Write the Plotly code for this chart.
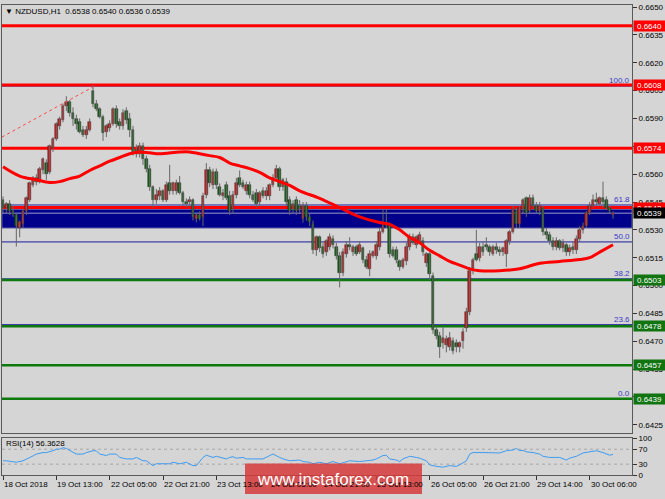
import plotly.graph_objects as go

# NZDUSD H1, bar 0 = 18 Oct 2018
opens = [0.6546, 0.6542, 0.6544, 0.6540, 0.6538, 0.6531, 0.6533, 0.6540, 0.6546, 0.6554,
         0.6558, 0.6556, 0.6562, 0.6566, 0.6561, 0.6574, 0.6579, 0.6586, 0.6589, 0.6597,
         0.6599, 0.6593, 0.6590, 0.6588, 0.6584, 0.6581, 0.6584, 0.6605, 0.6598, 0.6595,
         0.6591, 0.6583, 0.6585, 0.6587, 0.6595, 0.6588, 0.6586, 0.6594, 0.6590, 0.6584,
         0.6573, 0.6571, 0.6575, 0.6568, 0.6563, 0.6553, 0.6546, 0.6548, 0.6551, 0.6546,
         0.6555, 0.6551, 0.6551, 0.6555, 0.6550, 0.6545, 0.6545, 0.6546, 0.6536, 0.6538,
         0.6537, 0.6549, 0.6562, 0.6554, 0.6561, 0.6553, 0.6548, 0.6554, 0.6548, 0.6541,
         0.6549, 0.6558, 0.6555, 0.6551, 0.6554, 0.6549, 0.6550, 0.6545, 0.6551, 0.6548,
         0.6548, 0.6554, 0.6558, 0.6563, 0.6553, 0.6556, 0.6546, 0.6541, 0.6546, 0.6543,
         0.6536, 0.6543, 0.6537, 0.6533, 0.6519, 0.6526, 0.6521, 0.6518, 0.6521, 0.6525,
         0.6521, 0.6516, 0.6507, 0.6517, 0.6522, 0.6518, 0.6521, 0.6518, 0.6520, 0.6514,
         0.6509, 0.6516, 0.6516, 0.6521, 0.6529, 0.6533, 0.6532, 0.6519, 0.6519, 0.6513,
         0.6510, 0.6513, 0.6521, 0.6526, 0.6522, 0.6524, 0.6524, 0.6512, 0.6517, 0.6505,
         0.6476, 0.6473, 0.6469, 0.6468, 0.6467, 0.6470, 0.6469, 0.6467, 0.6470, 0.6477,
         0.6486, 0.6508, 0.6517, 0.6515, 0.6521, 0.6522, 0.6521, 0.6517, 0.6521, 0.6519,
         0.6518, 0.6517, 0.6524, 0.6529, 0.6540, 0.6533, 0.6541, 0.6547, 0.6540, 0.6547,
         0.6543, 0.6540, 0.6542, 0.6529, 0.6527, 0.6524, 0.6521, 0.6524, 0.6520, 0.6522,
         0.6518, 0.6521, 0.6519, 0.6525, 0.6530, 0.6532, 0.6539, 0.6543, 0.6546, 0.6544,
         0.6547, 0.6546, 0.6542, 0.6538]
highs = [0.6548, 0.6545, 0.6546, 0.6543, 0.6539, 0.6535, 0.6541, 0.6548, 0.6556, 0.6559,
         0.6560, 0.6564, 0.6569, 0.6568, 0.6576, 0.6580, 0.6588, 0.6591, 0.6598, 0.6602,
         0.6600, 0.6596, 0.6592, 0.6590, 0.6586, 0.6586, 0.6590, 0.6608, 0.6600, 0.6596,
         0.6592, 0.6587, 0.6589, 0.6596, 0.6597, 0.6590, 0.6595, 0.6596, 0.6593, 0.6586,
         0.6576, 0.6577, 0.6577, 0.6570, 0.6565, 0.6554, 0.6552, 0.6553, 0.6552, 0.6556,
         0.6565, 0.6556, 0.6557, 0.6559, 0.6551, 0.6547, 0.6548, 0.6547, 0.6539, 0.6540,
         0.6550, 0.6566, 0.6564, 0.6563, 0.6563, 0.6555, 0.6552, 0.6556, 0.6551, 0.6551,
         0.6558, 0.6562, 0.6557, 0.6556, 0.6556, 0.6551, 0.6552, 0.6551, 0.6553, 0.6553,
         0.6555, 0.6560, 0.6565, 0.6564, 0.6558, 0.6558, 0.6548, 0.6546, 0.6548, 0.6546,
         0.6545, 0.6545, 0.6539, 0.6535, 0.6527, 0.6527, 0.6523, 0.6525, 0.6528, 0.6527,
         0.6523, 0.6518, 0.6520, 0.6524, 0.6526, 0.6522, 0.6522, 0.6524, 0.6521, 0.6516,
         0.6519, 0.6519, 0.6524, 0.6531, 0.6541, 0.6541, 0.6534, 0.6521, 0.6521, 0.6514,
         0.6515, 0.6523, 0.6528, 0.6528, 0.6527, 0.6529, 0.6526, 0.6518, 0.6518, 0.6507,
         0.6478, 0.6475, 0.6478, 0.6473, 0.6475, 0.6472, 0.6471, 0.6470, 0.6477, 0.6488,
         0.6510, 0.6515, 0.6530, 0.6523, 0.6524, 0.6526, 0.6522, 0.6522, 0.6523, 0.6521,
         0.6521, 0.6525, 0.6530, 0.6543, 0.6542, 0.6543, 0.6547, 0.6548, 0.6549, 0.6549,
         0.6545, 0.6545, 0.6543, 0.6531, 0.6529, 0.6526, 0.6526, 0.6525, 0.6525, 0.6523,
         0.6522, 0.6524, 0.6527, 0.6532, 0.6534, 0.6540, 0.6545, 0.6549, 0.6550, 0.6548,
         0.6556, 0.6548, 0.6543, 0.6540]
lows = [0.6539, 0.6539, 0.6538, 0.6537, 0.6521, 0.6526, 0.6531, 0.6538, 0.6545, 0.6553,
        0.6554, 0.6555, 0.6560, 0.6557, 0.6560, 0.6572, 0.6578, 0.6584, 0.6588, 0.6594,
        0.6591, 0.6586, 0.6584, 0.6582, 0.6580, 0.6579, 0.6583, 0.6596, 0.6594, 0.6590,
        0.6578, 0.6580, 0.6583, 0.6586, 0.6585, 0.6584, 0.6584, 0.6587, 0.6580, 0.6570,
        0.6569, 0.6569, 0.6565, 0.6561, 0.6551, 0.6542, 0.6544, 0.6546, 0.6545, 0.6545,
        0.6549, 0.6549, 0.6549, 0.6549, 0.6543, 0.6542, 0.6543, 0.6535, 0.6534, 0.6535,
        0.6532, 0.6547, 0.6553, 0.6552, 0.6552, 0.6548, 0.6546, 0.6546, 0.6538, 0.6539,
        0.6547, 0.6553, 0.6552, 0.6549, 0.6547, 0.6545, 0.6542, 0.6543, 0.6547, 0.6546,
        0.6546, 0.6553, 0.6556, 0.6551, 0.6551, 0.6543, 0.6538, 0.6539, 0.6538, 0.6539,
        0.6534, 0.6535, 0.6532, 0.6517, 0.6516, 0.6518, 0.6515, 0.6516, 0.6519, 0.6520,
        0.6514, 0.6499, 0.6505, 0.6515, 0.6519, 0.6516, 0.6516, 0.6517, 0.6512, 0.6509,
        0.6505, 0.6515, 0.6514, 0.6519, 0.6528, 0.6531, 0.6515, 0.6515, 0.6512, 0.6508,
        0.6509, 0.6511, 0.6519, 0.6522, 0.6520, 0.6523, 0.6516, 0.6510, 0.6503, 0.6474,
        0.6471, 0.6461, 0.6466, 0.6464, 0.6465, 0.6463, 0.6464, 0.6464, 0.6466, 0.6475,
        0.6484, 0.6506, 0.6513, 0.6513, 0.6516, 0.6519, 0.6516, 0.6516, 0.6517, 0.6516,
        0.6516, 0.6510, 0.6522, 0.6528, 0.6531, 0.6531, 0.6539, 0.6537, 0.6539, 0.6542,
        0.6539, 0.6538, 0.6527, 0.6525, 0.6522, 0.6519, 0.6519, 0.6519, 0.6518, 0.6516,
        0.6516, 0.6517, 0.6517, 0.6524, 0.6528, 0.6531, 0.6538, 0.6542, 0.6543, 0.6543,
        0.6542, 0.6541, 0.6539, 0.6536]
closes = [0.6542, 0.6544, 0.6540, 0.6538, 0.6532, 0.6534, 0.6540, 0.6547, 0.6555, 0.6558,
          0.6556, 0.6563, 0.6568, 0.6560, 0.6575, 0.6579, 0.6587, 0.6590, 0.6597, 0.6599,
          0.6593, 0.6590, 0.6587, 0.6583, 0.6581, 0.6584, 0.6588, 0.6598, 0.6595, 0.6591,
          0.6582, 0.6586, 0.6587, 0.6595, 0.6587, 0.6586, 0.6593, 0.6589, 0.6584, 0.6572,
          0.6571, 0.6575, 0.6568, 0.6563, 0.6553, 0.6546, 0.6549, 0.6551, 0.6546, 0.6554,
          0.6551, 0.6555, 0.6555, 0.6550, 0.6545, 0.6544, 0.6546, 0.6537, 0.6538, 0.6536,
          0.6548, 0.6562, 0.6555, 0.6561, 0.6554, 0.6549, 0.6550, 0.6547, 0.6540, 0.6549,
          0.6555, 0.6554, 0.6553, 0.6554, 0.6549, 0.6546, 0.6544, 0.6550, 0.6548, 0.6551,
          0.6554, 0.6558, 0.6563, 0.6553, 0.6557, 0.6545, 0.6540, 0.6544, 0.6540, 0.6541,
          0.6543, 0.6537, 0.6534, 0.6519, 0.6526, 0.6520, 0.6517, 0.6524, 0.6526, 0.6522,
          0.6516, 0.6507, 0.6518, 0.6522, 0.6521, 0.6521, 0.6517, 0.6522, 0.6514, 0.6510,
          0.6517, 0.6518, 0.6522, 0.6529, 0.6532, 0.6532, 0.6517, 0.6516, 0.6514, 0.6510,
          0.6514, 0.6521, 0.6526, 0.6523, 0.6526, 0.6527, 0.6518, 0.6517, 0.6506, 0.6476,
          0.6473, 0.6467, 0.6472, 0.6471, 0.6472, 0.6465, 0.6467, 0.6469, 0.6475, 0.6486,
          0.6508, 0.6514, 0.6514, 0.6521, 0.6518, 0.6521, 0.6518, 0.6521, 0.6519, 0.6518,
          0.6520, 0.6524, 0.6529, 0.6541, 0.6533, 0.6542, 0.6546, 0.6539, 0.6547, 0.6543,
          0.6540, 0.6543, 0.6529, 0.6527, 0.6524, 0.6521, 0.6524, 0.6520, 0.6523, 0.6518,
          0.6520, 0.6519, 0.6525, 0.6530, 0.6532, 0.6539, 0.6543, 0.6546, 0.6545, 0.6547,
          0.6545, 0.6542, 0.6540, 0.6539]

# moving average (red curve), read at these bars
ma_bar = [0, 5, 10, 14, 17, 20, 23, 26, 29, 32, 35, 38, 41, 44, 47, 53, 56, 59, 62, 65,
          68, 71, 74, 77, 80, 83, 86, 89, 95, 101, 107, 113, 116, 119, 122, 125, 128, 131,
          134, 137, 140, 143, 149, 155, 161, 167, 173, 176, 179, 183]
ma_val = [0.6564, 0.6559, 0.6557, 0.65555, 0.6556, 0.65576, 0.6559, 0.6562, 0.65645, 0.6567,
          0.6569, 0.6571, 0.6572, 0.65715, 0.6571, 0.6572, 0.6572, 0.6571, 0.6570, 0.6569,
          0.6566, 0.65645, 0.6563, 0.6561, 0.6558, 0.6556, 0.6554, 0.6551, 0.6547, 0.6542,
          0.6537, 0.6534, 0.6533, 0.6530, 0.6526, 0.6523, 0.6519, 0.6516, 0.6513, 0.6511,
          0.6509, 0.6508, 0.6508, 0.6509, 0.6512, 0.6513, 0.6514, 0.6515, 0.6518, 0.6522]

# RSI(14)
rsi_bar = [0, 1, 4, 6, 9, 10, 12, 13, 15, 16, 17, 18, 19, 21, 22, 24, 25, 27, 28, 29,
           31, 32, 34, 35, 37, 39, 40, 42, 43, 45, 46, 48, 50, 51, 53, 55, 57, 58, 60, 61,
           63, 64, 67, 68, 69, 70, 72, 73, 75, 77, 78, 80, 81, 83, 84, 86, 88, 89, 90, 92,
           93, 95, 97, 99, 101, 104, 107, 110, 111, 112, 114, 115, 116, 118, 119, 120, 122,
           124, 125, 127, 128, 130, 132, 134, 136, 137, 139, 140, 141, 144, 147, 149, 151,
           153, 154, 155, 156, 157, 159, 161, 162, 164, 167, 169, 170, 172, 174, 176, 177,
           178, 180, 181, 182, 183]
rsi_val = [39, 39, 35, 39, 52, 57, 61, 61, 66, 70, 70, 74, 72, 61, 57, 57, 61, 66, 66, 57,
           53, 57, 57, 48, 44, 44, 48, 39, 39, 26, 31, 31, 31, 35, 31, 35, 26, 26, 48, 54,
           48, 51, 44, 48, 50, 46, 48, 44, 44, 46, 44, 53, 57, 48, 44, 39, 41, 41, 37, 35,
           31, 35, 31, 37, 31, 39, 37, 39, 41, 44, 53, 54, 44, 41, 37, 44, 51,
           48, 46, 39, 28, 24, 22, 26, 24, 28, 39, 57, 61, 61, 61, 60, 66,
           68, 72, 66, 67, 63, 61, 57, 51, 48, 48, 41, 46, 51, 60, 64, 66,
           66, 61, 57, 54, 56]

tick_bar = [0, 16, 32, 48, 64, 80, 96, 112, 128, 144, 160, 176]
tick_text = ["18 Oct 2018", "19 Oct 13:00", "22 Oct 05:00", "22 Oct 21:00", "23 Oct 13:00",
             "24 Oct 05:00", "24 Oct 21:00", "25 Oct 13:00", "26 Oct 05:00", "26 Oct 21:00",
             "29 Oct 14:00", "30 Oct 06:00"]
price_ticks = [0.6425, 0.6440, 0.6455, 0.6470, 0.6485, 0.6500, 0.6515, 0.6530, 0.6545,
               0.6560, 0.6575, 0.6590, 0.6605, 0.6620, 0.6635, 0.6650]

red_levels = [0.6640, 0.6608, 0.6574, 0.6542]
green_levels = [0.6503, 0.6478, 0.6457, 0.6439]
fib_text = ["100.0", "61.8", "50.0", "38.2", "23.6", "0.0"]
fib_levels = [0.66075, 0.65434, 0.65235, 0.65036, 0.64789, 0.6439]
zone = [0.6531, 0.6541]
bid = 0.6539
trend_bar = [-0.3, 27]
trend_val = [0.6580, 0.6607]

BG = "#d5d5d5"
BULL = "#e01010"
BEAR = "#0b640b"
WICK = "#666666"
FONT = "Liberation Sans, Arial, sans-serif"

n = len(closes)
bars = list(range(n))

wick_x, wick_y = [], []
for i in bars:
    wick_x += [i, i, None]
    wick_y += [lows[i], highs[i], None]

body_base = [min(o, c) for o, c in zip(opens, closes)]
body_h = [max(abs(c - o), 0.00004) for o, c in zip(opens, closes)]
body_col = [BULL if c >= o else BEAR for o, c in zip(opens, closes)]

fig = go.Figure()
fig.add_trace(go.Scatter(x=wick_x, y=wick_y, mode="lines",
                         line=dict(color=WICK, width=1), hoverinfo="skip"))
fig.add_trace(go.Bar(x=bars, y=body_h, base=body_base, width=0.72,
                     marker=dict(color=body_col, line=dict(width=0.5, color="#2a2a2a"))))
fig.add_trace(go.Scatter(x=ma_bar, y=ma_val, mode="lines",
                         line=dict(color="#ff0000", width=3, shape="spline", smoothing=1.0)))
fig.add_trace(go.Scatter(x=trend_bar, y=trend_val, mode="lines",
                         line=dict(color="#ff4848", width=1, dash="3px,3px")))
fig.add_trace(go.Scatter(x=rsi_bar, y=rsi_val, mode="lines", xaxis="x2", yaxis="y2",
                         line=dict(color="#3d9cf2", width=1)))

shapes = []
shapes.append(dict(type="rect", xref="x domain", x0=0, x1=1, yref="y", y0=zone[0], y1=zone[1],
                   fillcolor="#00008b", line=dict(color="#5a5aa8", width=1), layer="below"))
for lv in fib_levels:
    shapes.append(dict(type="line", xref="x domain", x0=0, x1=1, yref="y", y0=lv, y1=lv,
                       line=dict(color="#1a1aa0", width=1), layer="below"))
shapes.append(dict(type="line", xref="x domain", x0=0, x1=1, yref="y", y0=bid, y1=bid,
                   line=dict(color="#9c9cc8", width=1), layer="below"))
for lv in red_levels:
    shapes.append(dict(type="line", xref="x domain", x0=0, x1=1, yref="y", y0=lv, y1=lv,
                       line=dict(color="#ff0000", width=3), layer="below"))
for lv in green_levels:
    shapes.append(dict(type="line", xref="x domain", x0=0, x1=1, yref="y", y0=lv, y1=lv,
                       line=dict(color="#0e7a0e", width=2.5), layer="below"))
for lv in [70, 30]:
    shapes.append(dict(type="line", xref="x2 domain", x0=0, x1=1, yref="y2", y0=lv, y1=lv,
                       line=dict(color="#a8a8a8", width=1, dash="3px,3px"), layer="below"))
# watermark box
shapes.append(dict(type="rect", xref="paper", yref="paper", x0=245 / 665, x1=422 / 665,
                   y0=0, y1=31 / 499, fillcolor="rgba(214,58,58,0.85)", line=dict(width=0),
                   layer="above"))

ann = []
for lv, txt in zip(fib_levels, fib_text):
    ann.append(dict(xref="paper", x=631 / 665, xanchor="right", yref="y", y=lv, yanchor="bottom",
                    text=txt, showarrow=False, font=dict(size=8, color="#3a3ac8", family=FONT),
                    borderpad=0))
for lv in red_levels:
    ann.append(dict(xref="paper", x=633 / 665, xanchor="left", yref="y", y=lv, yanchor="middle",
                    text=f"{lv:.4f}", showarrow=False, bgcolor="#ff0000", width=31, height=10,
                    align="center", borderpad=0, font=dict(size=8, color="white", family=FONT)))
for lv in green_levels:
    ann.append(dict(xref="paper", x=633 / 665, xanchor="left", yref="y", y=lv, yanchor="middle",
                    text=f"{lv:.4f}", showarrow=False, bgcolor="#117411", width=31, height=10,
                    align="center", borderpad=0, font=dict(size=8, color="white", family=FONT)))
ann.append(dict(xref="paper", x=633 / 665, xanchor="left", yref="y", y=bid, yanchor="middle",
                text=f"{bid:.4f}", showarrow=False, bgcolor="#000000", width=31, height=10,
                align="center", borderpad=0, font=dict(size=8, color="white", family=FONT)))
for b, txt in zip(tick_bar, tick_text):
    ann.append(dict(xref="x2", x=b, xanchor="left", yref="paper", y=1 - 489 / 499,
                    yanchor="middle", text=txt, showarrow=False, borderpad=0,
                    font=dict(size=8, color="black", family=FONT)))
ann.append(dict(xref="paper", x=4 / 665, xanchor="left", yref="paper", y=1 - 8 / 499,
                yanchor="middle", showarrow=False, borderpad=0,
                text="▼ NZDUSD,H1  0.6538 0.6540 0.6536 0.6539",
                font=dict(size=8, color="black", family=FONT)))
ann.append(dict(xref="paper", x=5 / 665, xanchor="left", yref="paper", y=1 - 448 / 499,
                yanchor="middle", showarrow=False, borderpad=0, text="RSI(14) 56.3628",
                font=dict(size=8, color="black", family=FONT)))
ann.append(dict(xref="paper", x=333 / 665, xanchor="center", yref="paper", y=15 / 499,
                yanchor="middle", showarrow=False, text="www.instaforex.com",
                font=dict(size=17, color="white", family=FONT)))

axis_common = dict(showgrid=False, zeroline=False, showline=True, mirror=True,
                   linecolor="#5a5a5a", linewidth=1)

fig.update_layout(
    width=665, height=499, autosize=False,
    margin=dict(l=0, r=0, t=0, b=0),
    paper_bgcolor=BG, plot_bgcolor=BG,
    showlegend=False, bargap=0,
    shapes=shapes, annotations=ann,
    xaxis=dict(domain=[2 / 665, 632 / 665], range=[-0.3, 188.7], showticklabels=False,
               ticks="", **axis_common),
    yaxis=dict(domain=[1 - 437 / 499, 1 - 1 / 499], range=[0.642048, 0.665117], side="right",
               tickvals=price_ticks, ticktext=[f"{v:.4f}" for v in price_ticks],
               ticks="outside", ticklen=4, tickcolor="#333333",
               tickfont=dict(size=8, color="black", family=FONT), **axis_common),
    xaxis2=dict(domain=[2 / 665, 632 / 665], range=[-0.3, 188.7], anchor="y2",
                showticklabels=False, ticks="outside", ticklen=4, tickcolor="#333333",
                tickvals=tick_bar, **axis_common),
    yaxis2=dict(domain=[1 - 480 / 499, 1 - 442 / 499], range=[0, 100], side="right",
                anchor="x2", tickvals=[100, 70, 30, 0], ticks="outside", ticklen=4,
                tickcolor="#333333", tickfont=dict(size=8, color="black", family=FONT),
                **axis_common),
)

# the page body has a default 8px margin; drop it so the figure sits at the window corner
fig.write_html("out.html", config={"displayModeBar": False},
               post_script="document.body.style.margin='0px';")
